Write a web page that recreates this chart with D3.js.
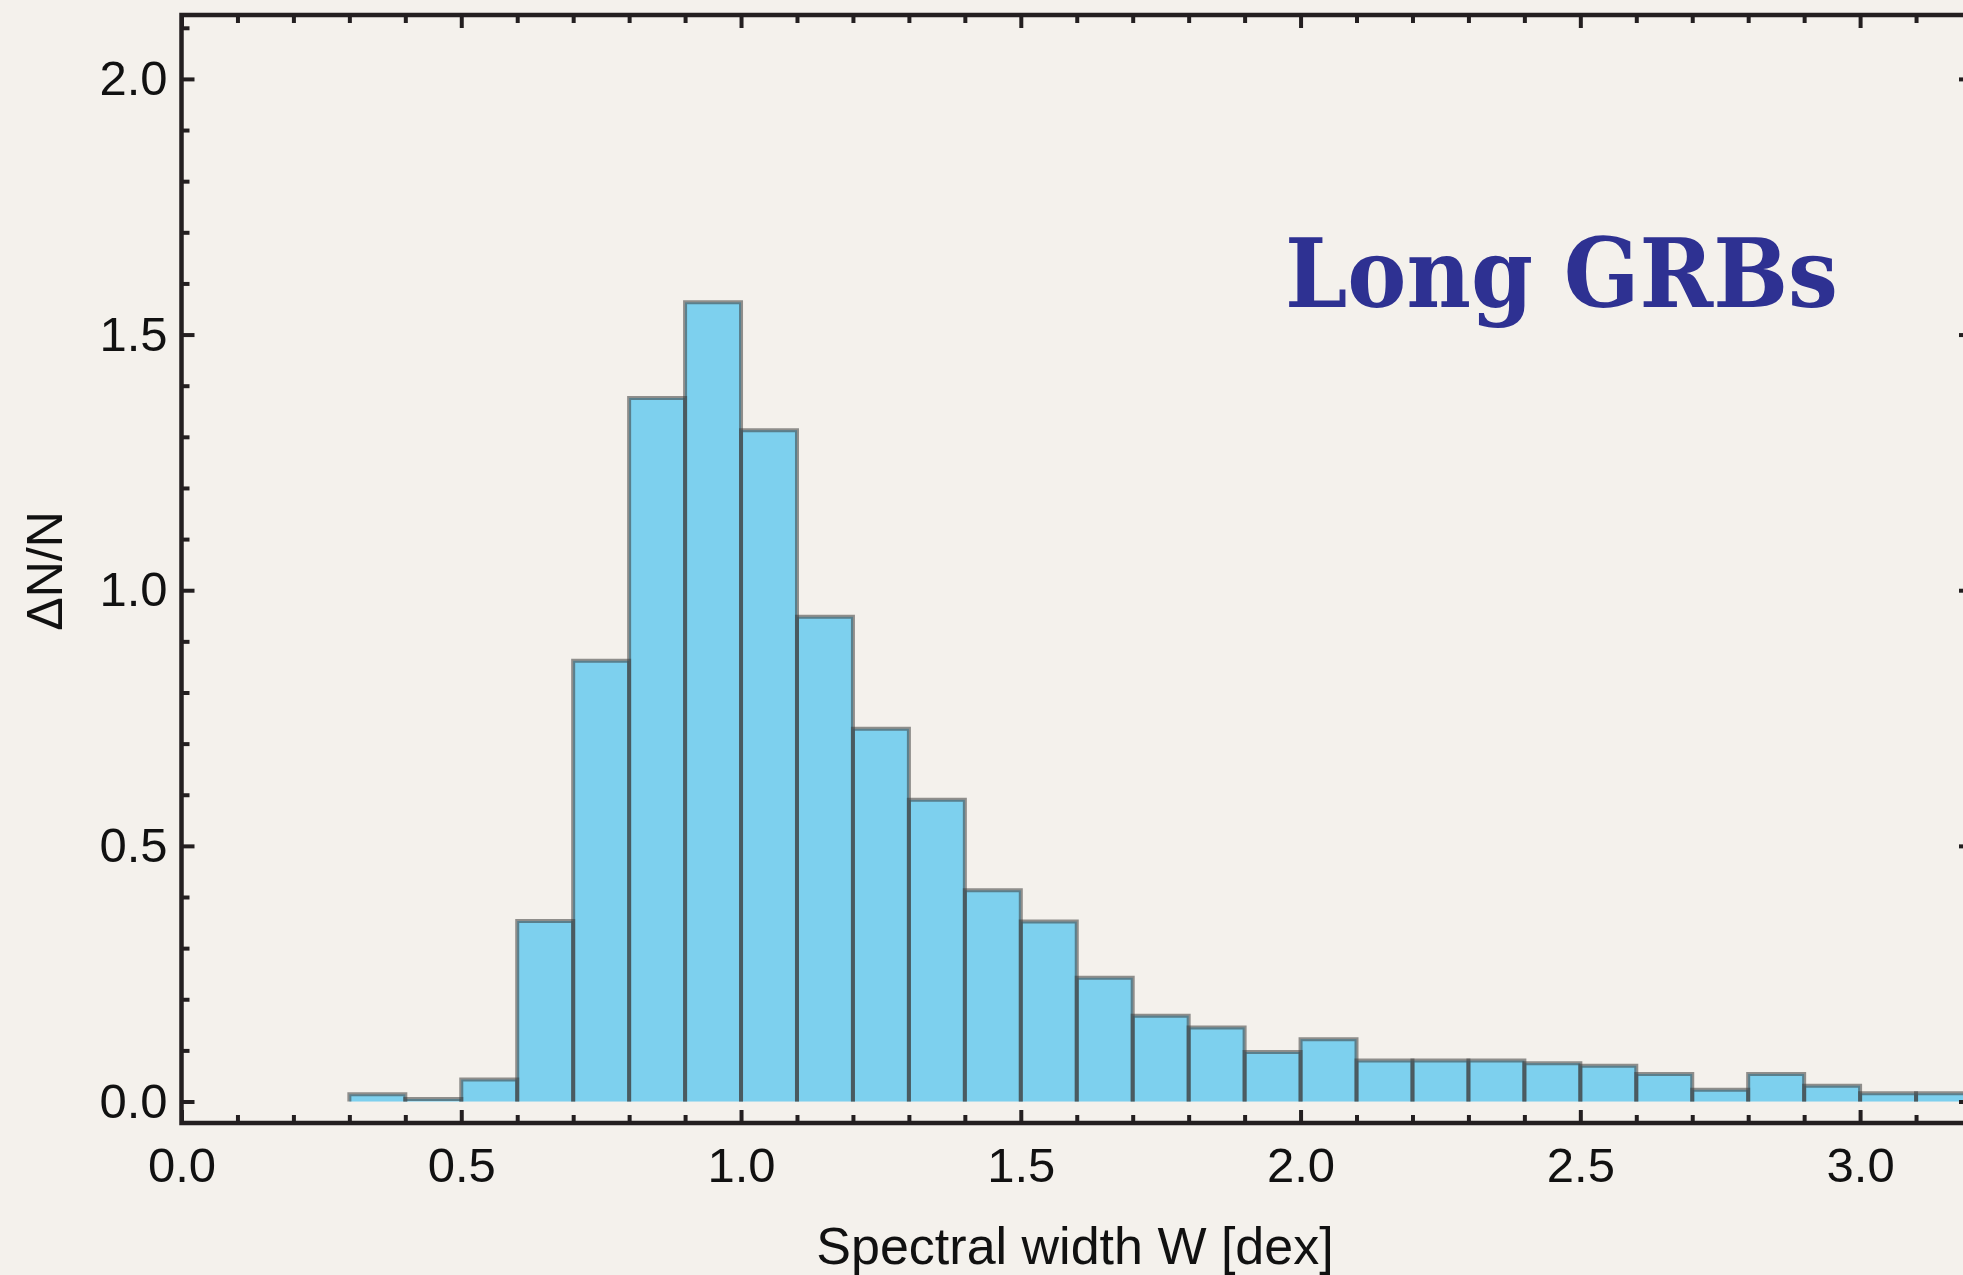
<!DOCTYPE html>
<html><head><meta charset="utf-8">
<script src="https://cdn.jsdelivr.net/npm/d3@7"></script>
<style>html,body{margin:0;padding:0;background:#f4f1ec;} svg{display:block}</style>
</head><body><svg id="c" width="1963" height="1275"></svg>
<script>
// ---- data ----
const binStarts = [0.3,0.4,0.5,0.6,0.7,0.8,0.9,1.0,1.1,1.2,1.3,1.4,1.5,1.6,1.7,1.8,1.9,2.0,2.1,2.2,2.3,2.4,2.5,2.6,2.7,2.8,2.9,3.0,3.1];
const binWidth = 0.1;
const values = [0.014,0.005,0.043,0.353,0.862,1.376,1.563,1.313,0.948,0.729,0.590,0.413,0.352,0.242,0.168,0.145,0.097,0.122,0.080,0.080,0.080,0.075,0.070,0.054,0.023,0.054,0.031,0.016,0.016];
const xMajorTicks = [0,0.5,1.0,1.5,2.0,2.5,3.0];
const xTickLabels = ["0.0","0.5","1.0","1.5","2.0","2.5","3.0"];
const xMinorTicks = [0.1,0.2,0.3,0.4,0.6,0.7,0.8,0.9,1.1,1.2,1.3,1.4,1.6,1.7,1.8,1.9,2.1,2.2,2.3,2.4,2.6,2.7,2.8,2.9,3.1];
const yMajorTicks = [0,0.5,1.0,1.5,2.0];
const yTickLabels = ["0.0","0.5","1.0","1.5","2.0"];
const yMinorTicks = [0.1,0.2,0.3,0.4,0.6,0.7,0.8,0.9,1.1,1.2,1.3,1.4,1.6,1.7,1.8,1.9,2.1];
const titleText = "Long GRBs";
const xLabel = "Spectral width W [dex]";
const yLabel = "\u0394N/N";

// ---- layout ----
const L = 181.5, R = 1972, T = 15, B = 1123;
const x = d3.scaleLinear().domain([0, 3.2]).range([L, R]);
const y = d3.scaleLinear().domain([-0.042, 2.125]).range([B, T]);
const svg = d3.select("#c");
const ink = "#231f20";
const sans = "'Liberation Sans', Arial, Helvetica, sans-serif";

svg.append("rect").attr("width",1963).attr("height",1275).attr("fill","#f4f1ec");

svg.append("defs").append("clipPath").attr("id","plotclip")
  .append("rect").attr("x",L).attr("y",T).attr("width",R-L).attr("height",B-T);

const bars = d3.range(values.length).map(i => ({x0: binStarts[i], x1: binStarts[i] + binWidth, v: values[i]}));
const pg = svg.append("g").attr("clip-path","url(#plotclip)");
pg.selectAll("rect.bar").data(bars).join("rect").attr("class","bar")
  .attr("x", d => x(d.x0)).attr("width", d => x(d.x1) - x(d.x0))
  .attr("y", d => y(d.v)).attr("height", d => y(0) - y(d.v))
  .attr("fill","#7dd0ee");
pg.selectAll("path.edge").data(bars).join("path").attr("class","edge")
  .attr("d", d => {
    const p = d3.path();
    p.moveTo(x(d.x0), y(0)); p.lineTo(x(d.x0), y(d.v));
    p.lineTo(x(d.x1), y(d.v)); p.lineTo(x(d.x1), y(0));
    return p.toString();
  })
  .attr("fill","none").attr("stroke","#3c3c3c").attr("stroke-opacity",0.55).attr("stroke-width",4);

function styleAxis(g){
  g.select(".domain").remove();
  g.selectAll(".tick line").attr("stroke", ink).attr("stroke-width", 4);
  g.selectAll(".tick text").attr("fill", "#111").attr("font-family", sans).attr("font-size", 49);
}
// bottom
svg.append("g").attr("transform",`translate(0,${B})`)
  .call(d3.axisBottom(x).tickValues(xMajorTicks).tickSize(-13).tickPadding(24).tickFormat((d,i)=>xTickLabels[i]))
  .call(styleAxis);
svg.append("g").attr("transform",`translate(0,${B})`)
  .call(d3.axisBottom(x).tickValues(xMinorTicks).tickSize(-8).tickFormat(""))
  .call(styleAxis);
// top
svg.append("g").attr("transform",`translate(0,${T})`)
  .call(d3.axisTop(x).tickValues(xMajorTicks).tickSize(-13).tickFormat(""))
  .call(styleAxis);
svg.append("g").attr("transform",`translate(0,${T})`)
  .call(d3.axisTop(x).tickValues(xMinorTicks).tickSize(-8).tickFormat(""))
  .call(styleAxis);
// left
svg.append("g").attr("transform",`translate(${L},0)`)
  .call(d3.axisLeft(y).tickValues(yMajorTicks).tickSize(-13).tickPadding(14).tickFormat((d,i)=>yTickLabels[i]))
  .call(styleAxis);
svg.append("g").attr("transform",`translate(${L},0)`)
  .call(d3.axisLeft(y).tickValues(yMinorTicks).tickSize(-8).tickFormat(""))
  .call(styleAxis);
// right
svg.append("g").attr("transform",`translate(${R},0)`)
  .call(d3.axisRight(y).tickValues(yMajorTicks).tickSize(-13).tickFormat(""))
  .call(styleAxis);
svg.append("g").attr("transform",`translate(${R},0)`)
  .call(d3.axisRight(y).tickValues(yMinorTicks).tickSize(-8).tickFormat(""))
  .call(styleAxis);

// frame
svg.append("rect").attr("x",L).attr("y",T).attr("width",R-L).attr("height",B-T)
  .attr("fill","none").attr("stroke",ink).attr("stroke-width",4.5);

// labels
svg.append("text").attr("x",1075).attr("y",1264).attr("text-anchor","middle")
  .attr("font-family",sans).attr("font-size",52).attr("fill","#111").text(xLabel);
svg.append("text").attr("transform","translate(62,571) rotate(-90)").attr("text-anchor","middle")
  .attr("font-family",sans).attr("font-size",50).attr("fill","#111").text(yLabel);
svg.append("text").attr("x",1285).attr("y",307)
  .attr("font-family","'DejaVu Serif', serif").attr("font-weight","bold").attr("font-size",95)
  .attr("textLength",553).attr("lengthAdjust","spacingAndGlyphs")
  .attr("fill","#2e3192").text(titleText);
</script></body></html>
